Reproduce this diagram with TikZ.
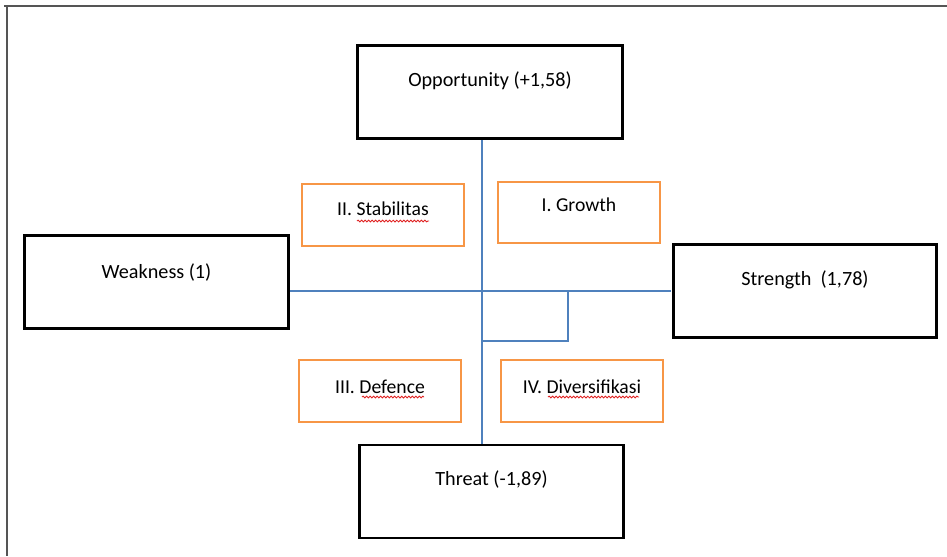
\documentclass[tikz,border=0pt]{standalone}
\usepackage{fontspec}
\setmainfont{Carlito}
\usepackage{xcolor}
\usepackage{tikz}
\usetikzlibrary{calc,decorations.pathmorphing}
\definecolor{frame}{HTML}{555555}
\definecolor{axis}{HTML}{4F81BD}
\definecolor{quad}{HTML}{F79646}
\definecolor{spellred}{HTML}{E02020}
\tikzset{
  border/.style={draw=frame, line width=1.1pt},
  factor/.style={draw=black, line width=1.6pt, inner sep=0pt, fill=white,
    minimum width=150pt, text height=23.3pt, text depth=29.7pt, font=\fontsize{11.5}{13}\selectfont},
  quadbox/.style={draw=quad, line width=1.4pt, inner sep=0pt, fill=white,
    minimum width=92pt, text height=18pt, text depth=17.5pt, font=\fontsize{11.2}{13}\selectfont},
  axisline/.style={draw=axis, line width=0.8pt},
  spell/.style={draw=spellred, line width=0.5pt,
    decorate, decoration={snake, amplitude=0.5pt, segment length=2pt}},
}

\begin{document}
\begin{tikzpicture}[x=0.02cm, y=-0.02cm]
  \useasboundingbox (0,0) rectangle (947,556);

  % outer frame (only top and left edges visible)
  \draw[border] (4,6) -- (947,6);
  \draw[border] (7,6) -- (7,556);

  \coordinate (cx) at (482,291);
  \coordinate (pos) at (568,341);

  % blue axes
  \coordinate (top) at (482,138);
  \coordinate (bot) at (482,444);
  \coordinate (lft) at (290,291);
  \coordinate (rgt) at (671,291);
  \draw[axisline] (top) -- (bot);
  \draw[axisline] (lft) -- (rgt);
  \draw[axisline] (cx -| pos) -- (pos) -- (pos -| cx);

  % IFE / EFE factors
  \node[factor, minimum width=151pt] (opp) at (490,92) {Opportunity (+1,58)};
  \node[factor, minimum width=150pt, text height=24.5pt, text depth=28.5pt] (weak) at (156.5,282) {Weakness (1)};
  \node[factor, minimum width=150pt] (str) at (805,291) {Strength\ \ (1,78)};
  \node[factor, minimum width=150pt] (thr) at (491.5,491.5) {Threat (-1,89)};

  % quadrants
  \node[quadbox] (stab) at (383,215) {II. Stabilitas};
  \node[quadbox, text height=17pt, text depth=18pt] (grow) at (579,212.5) {I. Growth};
  \node[quadbox, text height=19pt, text depth=16.5pt] (def) at (380,391) {III. Defence};
  \node[quadbox, text height=19pt, text depth=16.5pt] (div) at (582,391) {IV. Diversifikasi};

  % spell check marks
  \draw[spell] ($(stab)+(-26,6)$) -- ($(stab)+(46,6)$);
  \draw[spell] ($(def)+(-18,6)$) -- ($(def)+(44,6)$);
  \draw[spell] ($(div)+(-34,6)$) -- ($(div)+(57,6)$);
\end{tikzpicture}
\end{document}
